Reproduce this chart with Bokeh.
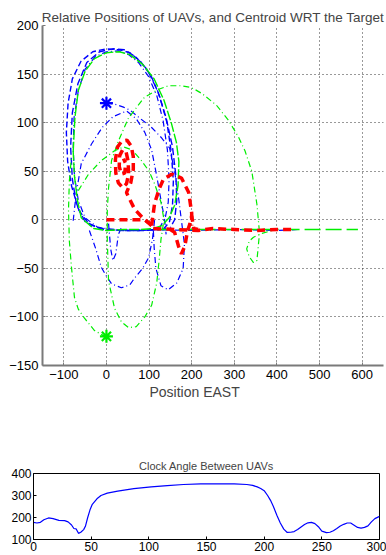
from bokeh.plotting import figure
from bokeh.layouts import column, row
from bokeh.models import Range1d, FixedTicker, Title
from bokeh.embed import file_html
from bokeh.resources import INLINE

FONT = "Liberation Sans"

# ---------------- top chart data (EAST, NORTH) ----------------
blue_start = [0]
blue_start_y = [120]
green_start = [0]
green_start_y = [-120]

# blue UAV orbits
blue_loop1_x = [120, 80, 40, 0, -40, -65, -82, -91, -94, -90, -80, -60, -32, 0, 30, 55, 80, 105, 125, 142, 152, 157, 155, 148, 135, 118]
blue_loop1_y = [-10, -11, -11, -10, -5, 10, 35, 60, 90, 120, 145, 163, 173, 176, 175, 172, 163, 148, 127, 100, 70, 40, 15, -2, -9, -10]
blue_loop2_x = [110, 60, 20, -20, -50, -66, -75, -78, -76, -66, -50, -26, 0, 28, 52, 75, 98, 118, 133, 143, 147, 145, 138, 125]
blue_loop2_y = [-10, -11, -10, -8, 2, 20, 45, 75, 105, 133, 155, 168, 173, 174, 170, 162, 148, 128, 102, 72, 42, 18, 2, -8]
blue_loop3_x = [135, 90, 40, -10, -50, -70, -80, -84, -80, -67, -46, -16, 15, 42, 68, 95, 120, 140, 155, 163, 165, 160, 150]
blue_loop3_y = [-10, -11, -11, -10, -2, 15, 42, 75, 110, 140, 162, 173, 176, 175, 168, 155, 133, 105, 75, 45, 20, 0, -8]
blue_arc1_x = [0, 20, 40, 55, 80, 106, 128, 148, 160, 170, 176, 183, 180, 165, 145, 128, 116, 112, 110]
blue_arc1_y = [120, 119, 116, 113, 104, 95, 85, 74, 50, 20, -1, -25, -50, -65, -72, -68, -50, -29, -10]
blue_arc2_x = [-78, -71, -59, -35, -10, 15, 47, 70, 90, 106, 118, 128, 136, 140]
blue_arc2_y = [-1, 27, 58, 78, 95, 106, 112, 104, 90, 72, 45, 20, 2, -15]
blue_low_x = [-40, -25, -12, 0, 12, 35, 55, 66, 85, 99, 108, 113]
blue_low_y = [-11, -30, -49, -58, -66, -70, -67, -60, -50, -39, -20, 0]
blue_v_x = [5, 10, 15, 22, 28, 35]
blue_v_y = [-4, -30, -42, -35, -15, -8]
blue_east_x = [100, 200, 300, 400, 450]
blue_east_y = [-10, -11, -10, -11, -10]

# green UAV
green_out_x = [0, -28, -52, -66, -75, -82, -87, -89, -87, -82]
green_out_y = [-121, -114, -101, -92, -80, -49, -22, 10, 40, 65]
green_loop_x = [-78, -74, -66, -50, -28, 0, 30, 55, 85, 112, 135, 152, 164, 170, 168, 160, 147, 130, 110, 80, 40, 0, -30, -59, -68, -75, -78]
green_loop_y = [70, 105, 133, 153, 166, 172, 173, 170, 160, 145, 123, 100, 80, 60, 35, 15, 2, -6, -9, -10, -10, -11, -9, 2, 20, 45, 70]
green_arc_x = [-66, -42, -12, 19, 40, 60, 82, 100, 113, 128, 135, 128, 124, 118, 106, 90, 70, 52, 35, 19, 5, 2, 2, 5, 12, 28, 52, 89, 120, 146, 176, 200, 224, 258, 287, 310, 325, 341, 353, 358, 358, 353, 345, 335, 329, 335, 345, 365, 388]
green_arc_y = [30, 47, 61, 71, 75, 72, 61, 50, 37, 18, 0, -20, -40, -65, -88, -100, -110, -111, -105, -91, -63, -20, 10, 33, 61, 81, 105, 126, 134, 138, 138, 136, 130, 118, 102, 85, 71, 50, 16, -8, -19, -42, -44, -38, -30, -22, -18, -14, -11]
green_east_x = [120, 250, 400, 590]
green_east_y = [-10, -10, -10, -10]

# centroid
red_base_x = [0, 30, 60, 89, 100, 106]
red_base_y = [0, 0, 0, 0, -3, -6]
red_diag_x = [106, 87, 66, 47, 57, 63, 63, 58, 48, 36, 26, 21, 22, 28, 38, 47, 52, 51, 46, 38, 31, 30, 35, 43, 45, 40]
red_diag_y = [-6, 1, 11, 28, 38, 52, 65, 76, 82, 81, 75, 62, 48, 38, 33, 37, 47, 60, 70, 72, 66, 55, 47, 48, 58, 63]
red_hump_x = [106, 113, 124, 134, 153, 176, 193, 200, 200]
red_hump_y = [-6, 17, 32, 42, 47, 43, 28, 7, -6]
red_dip_x = [150, 160, 169, 176, 184, 190, 196, 200, 205, 215]
red_dip_y = [-10, -13, -27, -35, -27, -12, -4, 4, -9, -10]
red_east_x = [110, 160, 215, 250, 300, 350, 400, 440]
red_east_y = [-9, -10, -11, -9, -10, -11, -10, -10]

x_ticks = [-100, 0, 100, 200, 300, 400, 500, 600]
x_labels = ["\u2212100", "0", "100", "200", "300", "400", "500", "600"]
y_ticks = [-150, -100, -50, 0, 50, 100, 150, 200]
y_labels = ["\u2212150", "\u2212100", "\u221250", "0", "50", "100", "150", "200"]

# ---------------- bottom chart data ----------------
clock_t = [0, 3, 6, 9, 13, 17, 22, 27, 30, 33, 35, 37, 39, 41, 43.5, 45, 47, 49, 51, 55, 58.5, 64, 73, 87, 102, 116, 130, 145, 159, 174, 185, 190, 194, 197, 200, 203, 205.5, 208, 211, 214, 217, 220, 223, 226, 229, 232, 235, 238, 241, 244, 247, 250, 254, 257, 260, 263, 266, 269, 272, 275, 278, 281, 284, 287, 290, 293, 296, 300]
clock_a = [178, 175, 178, 190, 198, 195, 187, 186, 180, 166, 150, 148, 128, 133, 145, 160, 200, 235, 260, 285, 300, 311, 320, 331, 339, 345, 350, 353, 353, 353, 350, 346, 339, 332, 322, 300, 278, 250, 210, 175, 147, 132, 133, 136, 145, 157, 168, 176, 178, 172, 158, 138, 131, 133, 140, 150, 161, 169, 175, 175, 165, 155, 152, 155, 162, 180, 195, 205]
bx_ticks = [0, 50, 100, 150, 200, 250, 300]
by_ticks = [100, 200, 300, 400]

BLUE = "#0000ff"
GREEN = "#00ee00"
RED = "#ff0000"
DASHDOT = "6 3 1 3"

p = figure(width=386, height=405, x_range=Range1d(-150, 650), y_range=Range1d(-150, 200),
           output_backend="svg", toolbar_location=None,
           min_border_left=42, min_border_right=3, min_border_top=25, min_border_bottom=40)
p.title.text = "Relative Positions of UAVs, and Centroid WRT the Target"
p.title.align = "center"
p.title.text_font = FONT
p.title.text_font_size = "13.5px"
p.title.text_font_style = "normal"
p.title.standoff = 2
p.outline_line_color = None
p.background_fill_color = "white"
p.border_fill_color = "white"

for ax in (p.xaxis[0], p.yaxis[0]):
    ax.major_label_text_font = FONT
    ax.major_label_text_font_size = "13px"
    ax.major_label_text_color = "#000000"
    ax.axis_line_color = "#7a7a7a"
    ax.axis_line_width = 2
    ax.major_tick_in = 3
    ax.major_tick_out = 0
    ax.major_tick_line_color = "#7a7a7a"
    ax.minor_tick_line_color = None
p.xaxis.ticker = FixedTicker(ticks=x_ticks)
p.yaxis.ticker = FixedTicker(ticks=y_ticks)
p.xaxis.major_label_overrides = {t: l for t, l in zip(x_ticks, x_labels)}
p.yaxis.major_label_overrides = {t: l for t, l in zip(y_ticks, y_labels)}
p.xaxis.major_label_standoff = 4
p.yaxis.major_label_standoff = 4
p.grid.grid_line_color = "#333333"
p.grid.grid_line_dash = "1 3"
p.grid.grid_line_width = 1

xl = Title(text="Position EAST", align="left", offset=107, text_font=FONT,
           text_font_size="14px", text_font_style="normal", standoff=0)
p.add_layout(xl, "below")

# blue
p.line(blue_loop1_x, blue_loop1_y, line_color=BLUE, line_width=1.4, line_dash="6 3")
p.line(blue_loop2_x, blue_loop2_y, line_color=BLUE, line_width=1.2, line_dash=DASHDOT)
p.line(blue_loop3_x, blue_loop3_y, line_color=BLUE, line_width=1.4, line_dash="7 3")
p.line(blue_arc1_x, blue_arc1_y, line_color=BLUE, line_width=1.2, line_dash=DASHDOT)
p.line(blue_arc2_x, blue_arc2_y, line_color=BLUE, line_width=1.2, line_dash=DASHDOT)
p.line(blue_low_x, blue_low_y, line_color=BLUE, line_width=1.2, line_dash=DASHDOT)
p.line(blue_v_x, blue_v_y, line_color=BLUE, line_width=1.2, line_dash=DASHDOT)
p.line(blue_east_x, blue_east_y, line_color=BLUE, line_width=1.2, line_dash=DASHDOT)

# green
p.line(green_out_x, green_out_y, line_color=GREEN, line_width=1.2, line_dash=DASHDOT)
p.line(green_loop_x, green_loop_y, line_color=GREEN, line_width=1.4, line_dash="10 2")
p.line(green_arc_x, green_arc_y, line_color=GREEN, line_width=1.2, line_dash=DASHDOT)
p.line(green_east_x, green_east_y, line_color=GREEN, line_width=1.4, line_dash="16 5")

# red centroid
for xs, ys in ((red_base_x, red_base_y), (red_diag_x, red_diag_y), (red_hump_x, red_hump_y),
               (red_dip_x, red_dip_y), (red_east_x, red_east_y)):
    p.line(xs, ys, line_color=RED, line_width=3.5, line_dash="8 5")

p.scatter(blue_start, blue_start_y, marker="asterisk", size=13, line_color=BLUE, line_width=2.2)
p.scatter(green_start, green_start_y, marker="asterisk", size=13, line_color=GREEN, line_width=2.2)

# ---------------- bottom chart ----------------
q = figure(width=386, height=150, x_range=Range1d(0, 300), y_range=Range1d(100, 400),
           output_backend="svg", toolbar_location=None,
           min_border_left=33, min_border_right=7, min_border_top=68, min_border_bottom=16)
q.title.text = "Clock Angle Between UAVs"
q.title.align = "center"
q.title.text_font = FONT
q.title.text_font_size = "11px"
q.title.text_font_style = "normal"
q.title.standoff = 4
q.outline_line_color = "#000000"
q.outline_line_width = 1
q.grid.grid_line_color = None
for ax in (q.xaxis[0], q.yaxis[0]):
    ax.major_label_text_font = FONT
    ax.major_label_text_font_size = "12px"
    ax.major_label_text_color = "#000000"
    ax.axis_line_color = "#000000"
    ax.major_tick_in = 3
    ax.major_tick_out = 0
    ax.minor_tick_line_color = None
    ax.major_label_standoff = 2
q.xaxis.ticker = FixedTicker(ticks=bx_ticks)
q.yaxis.ticker = FixedTicker(ticks=by_ticks)
q.line(clock_t, clock_a, line_color=BLUE, line_width=1.2)

layout = column(p, row(q, spacing=0), spacing=0)
open("out.html", "w").write(file_html(layout, INLINE))
